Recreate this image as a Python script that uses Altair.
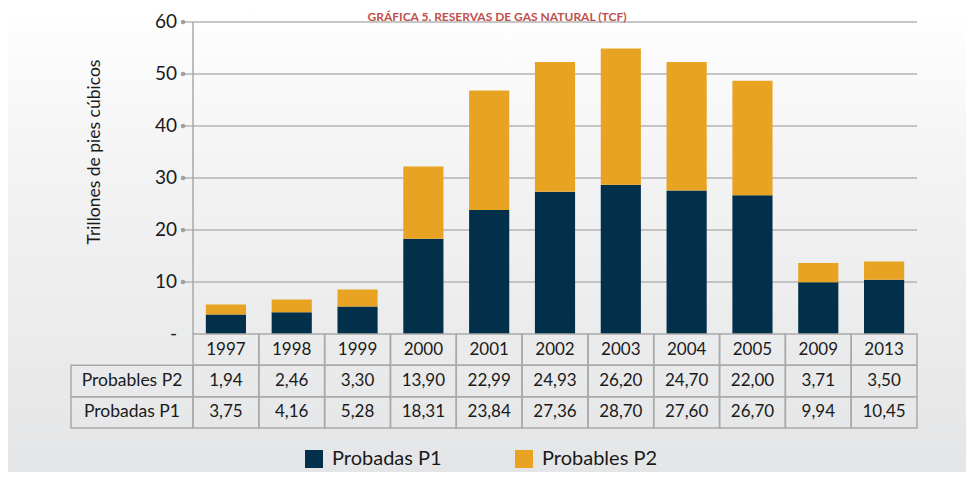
import altair as alt
import pandas as pd

# ---------------- data ----------------
years = ["1997", "1998", "1999", "2000", "2001", "2002", "2003", "2004", "2005", "2009", "2013"]
probables_p2 = [1.94, 2.46, 3.30, 13.90, 22.99, 24.93, 26.20, 24.70, 22.00, 3.71, 3.50]
probadas_p1 = [3.75, 4.16, 5.28, 18.31, 23.84, 27.36, 28.70, 27.60, 26.70, 9.94, 10.45]
series_names = ["Probadas P1", "Probables P2"]
series_colors = ["#02304a", "#e8a323"]
row_keys = ["year", "P2", "P1"]
row_label_keys = ["P2", "P1"]
row_labels = ["Probables P2", "Probadas P1"]
y_ticks = [0, 10, 20, 30, 40, 50, 60]
y_tick_labels = ["-", "10", "20", "30", "40", "50", "60"]
y_title = "Trillones de pies cúbicos"
chart_title = "GRÁFICA 5. RESERVAS DE GAS NATURAL (TCF)"

FONT = "Lato"
TXT = "#1a1a1a"
LINE = "#a9a9a9"
W, H = 958, 464


def fmt(v):
    return f"{v:.2f}".replace(".", ",")


bars_rows = []
for i, y in enumerate(years):
    bars_rows.append({"year": y, "series": series_names[0], "value": probadas_p1[i], "ord": 0})
    bars_rows.append({"year": y, "series": series_names[1], "value": probables_p2[i], "ord": 1})
bars_df = pd.DataFrame(bars_rows)

cells_rows = []
for i, y in enumerate(years):
    cells_rows.append({"year": y, "row": "year", "text": y})
    cells_rows.append({"year": y, "row": "P2", "text": fmt(probables_p2[i])})
    cells_rows.append({"year": y, "row": "P1", "text": fmt(probadas_p1[i])})
cells_df = pd.DataFrame(cells_rows)

labels_df = pd.DataFrame({"row": row_label_keys, "text": row_labels})
ticks_df = pd.DataFrame({"v": y_ticks, "label": y_tick_labels})
axis_df = pd.DataFrame({"lo": [y_ticks[0]], "hi": [y_ticks[-1]]})
one = pd.DataFrame({"a": [0]})

# ---------------- scales ----------------
x_scale = alt.Scale(domain=years, range=[185, 909], paddingInner=0, paddingOuter=0)
y_scale = alt.Scale(domain=[0, 60], range=[326, 14], nice=False)
row_scale = alt.Scale(type="band", domain=row_keys, range=[326, 420], paddingInner=0, paddingOuter=0)

# ---------------- layers ----------------
bg = alt.Chart(one).mark_rect(
    fill=alt.LinearGradient(
        gradient="linear",
        stops=[alt.GradientStop(color="#ffffff", offset=0),
               alt.GradientStop(color="#f3f3f4", offset=0.35),
               alt.GradientStop(color="#e4e5e6", offset=1)],
        x1=0, x2=0, y1=0, y2=1,
    )
).encode(x=alt.value(0), x2=alt.value(W), y=alt.value(0), y2=alt.value(H))

grid = alt.Chart(ticks_df).transform_filter("datum.v > 0").mark_rule(
    color="#b3b3b3", strokeWidth=1.5
).encode(
    y=alt.Y("v:Q", scale=y_scale, axis=None),
    x=alt.value(175), x2=alt.value(909),
)

dots = alt.Chart(ticks_df).transform_filter("datum.v > 0").mark_circle(
    color="#a0a0a0", size=22, opacity=1
).encode(y=alt.Y("v:Q", scale=y_scale, axis=None), x=alt.value(175))

tick_text = alt.Chart(ticks_df).mark_text(
    align="right", baseline="middle", font=FONT, fontSize=19, color=TXT
).encode(y=alt.Y("v:Q", scale=y_scale, axis=None), x=alt.value(169), text="label:N")

axis_line = alt.Chart(axis_df).mark_rule(color=LINE, strokeWidth=1.5).encode(
    x=alt.value(185),
    y=alt.Y("lo:Q", scale=y_scale, axis=None),
    y2="hi:Q",
)

bars = alt.Chart(bars_df).mark_bar(width=alt.RelativeBandSize(0.61)).encode(
    x=alt.X("year:N", scale=x_scale, axis=None),
    y=alt.Y("value:Q", scale=y_scale, stack="zero", axis=None),
    color=alt.Color(
        "series:N",
        scale=alt.Scale(domain=series_names, range=series_colors),
        legend=alt.Legend(
            title=None, orient="none", legendX=296, legendY=441,
            direction="horizontal", columns=2, symbolType="square",
            symbolSize=324, symbolStrokeWidth=0, symbolOpacity=1,
            labelFont=FONT, labelFontSize=20, labelColor=TXT,
            labelOffset=8, columnPadding=72, padding=0, labelLimit=300,
        ),
    ),
    order=alt.Order("ord:Q"),
)

cell_rects = alt.Chart(cells_df).mark_rect(
    fillOpacity=0, stroke=LINE, strokeWidth=1.5
).encode(
    x=alt.X("year:N", scale=x_scale, axis=None),
    y=alt.Y("row:N", scale=row_scale, axis=None),
)

cell_text = alt.Chart(cells_df).mark_text(
    font=FONT, fontSize=17, color=TXT, baseline="middle", align="center"
).encode(
    x=alt.X("year:N", scale=x_scale, axis=None, bandPosition=0.5),
    y=alt.Y("row:N", scale=row_scale, axis=None, bandPosition=0.5),
    text="text:N",
)

label_rects = alt.Chart(labels_df).mark_rect(
    fillOpacity=0, stroke=LINE, strokeWidth=1.5
).encode(
    x=alt.value(63), x2=alt.value(185),
    y=alt.Y("row:N", scale=row_scale, axis=None),
)

label_text = alt.Chart(labels_df).mark_text(
    font=FONT, fontSize=17.5, color=TXT, baseline="middle", align="center"
).encode(
    x=alt.value(124),
    y=alt.Y("row:N", scale=row_scale, axis=None, bandPosition=0.5),
    text="text:N",
)

ytitle = alt.Chart(one).mark_text(
    angle=270, font=FONT, fontSize=17.5, color=TXT, baseline="middle", align="center"
).encode(x=alt.value(87), y=alt.value(144), text=alt.value(y_title))

title = alt.Chart(one).mark_text(
    font=FONT, fontSize=12, fontWeight="bold", color="#c0504d",
    baseline="alphabetic", align="center"
).encode(x=alt.value(489), y=alt.value(13), text=alt.value(chart_title))

chart = alt.layer(
    bg, grid, dots, tick_text, axis_line, bars, cell_rects, cell_text,
    label_rects, label_text, ytitle, title,
).resolve_scale(y="independent").properties(
    width=W, height=H,
    autosize=alt.AutoSizeParams(type="none"),
    padding=0,
).configure_view(strokeWidth=0).configure(font=FONT)

chart.save("out.html", embed_options={"renderer": "svg", "actions": False})
